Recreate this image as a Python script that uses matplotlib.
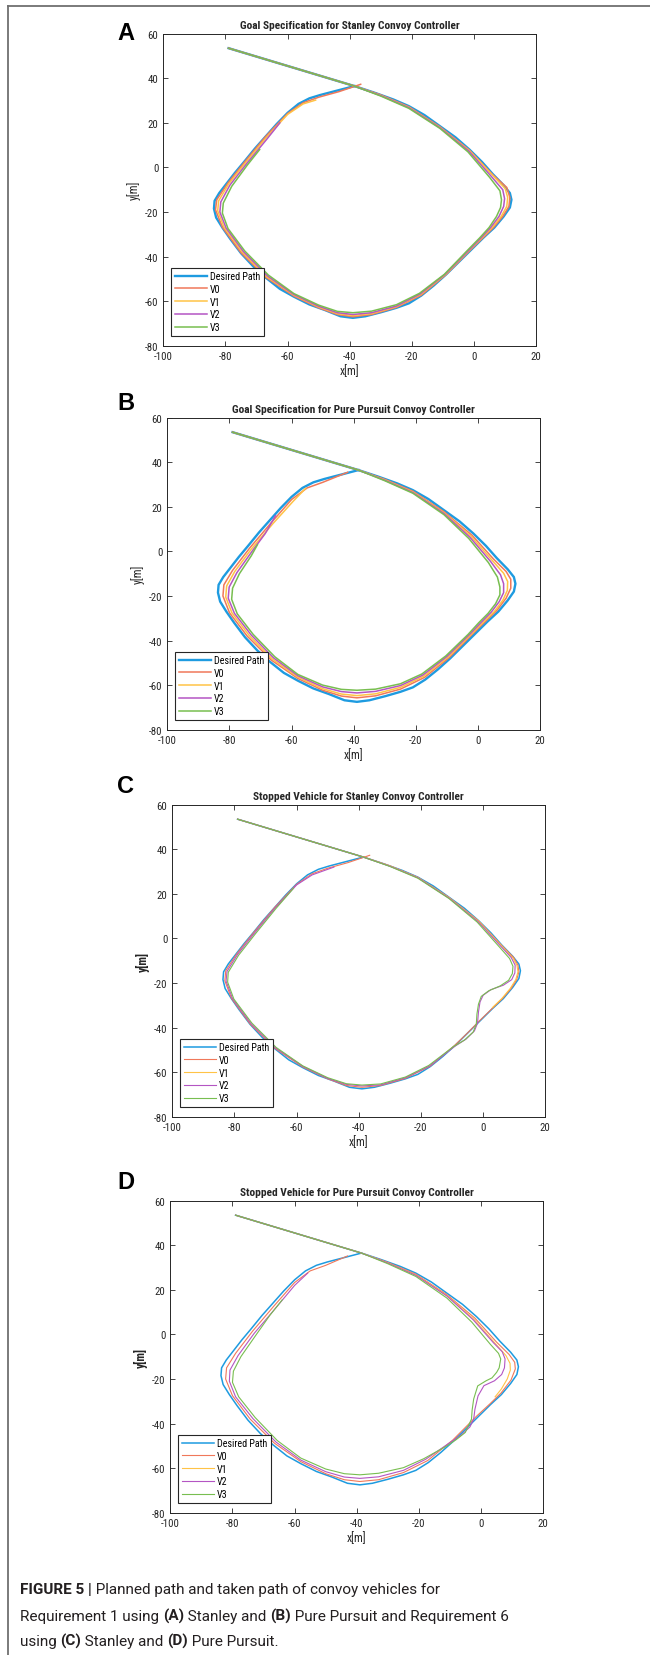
import matplotlib
matplotlib.use('Agg')
import matplotlib.pyplot as plt
from matplotlib import font_manager
from matplotlib.lines import Line2D

W, H = 650, 1656

# desired path, shared by all four runs
DESIRED = [(-79, 53.5), (-38.5, 36.5), (-32, 33.5), (-26, 30.5), (-21, 27.5), (-16, 23.5),
           (-11, 18.5), (-6, 13.5), (-1.5, 8), (2.5, 2.5), (6, -3), (9.5, -8), (11.5, -11.5),
           (12, -14.5), (11.5, -18), (9.5, -22), (6.5, -27), (3, -31.5), (-1, -37), (-5, -42.5),
           (-9, -48), (-13, -53), (-17, -57.5), (-21, -61), (-25, -63), (-30, -65), (-35, -66.8),
           (-39, -67.5), (-43, -66.8), (-48, -64), (-53, -61.5), (-58, -58), (-62.5, -54.5),
           (-67, -49.5), (-71, -44.5), (-75, -38.5), (-78.5, -32), (-81, -27), (-83, -22.5),
           (-83.7, -18.5), (-83.5, -15), (-82, -11.5), (-79.5, -7), (-77, -2.5), (-74, 2.5),
           (-70.5, 8.5), (-67, 14), (-63.5, 19.5), (-60, 24.5), (-56.5, 28.5), (-53, 31),
           (-49.5, 32.5), (-44, 34.5), (-38.5, 36.5)]

# (A) Stanley, requirement 1
A_V0 = [(-79, 53.5), (-38.5, 36.5), (-30, 32.5), (-21, 27.2), (-11, 18.2), (-1.5, 7.7), (6, -3.3),
        (10.5, -9), (11.5, -13.5), (11.2, -17.5), (9.2, -22), (6.2, -27), (2.8, -31.6), (-1.2, -37),
        (-9, -48), (-17, -57.3), (-25, -62.8), (-33, -66), (-39, -67), (-44, -66), (-50, -63),
        (-58, -57.7), (-67, -49.3), (-75, -38.3), (-81, -26.8), (-83.2, -19), (-82.8, -14.5),
        (-79.2, -7), (-73.8, 2.5), (-67, 14), (-60, 24.2), (-55, 29), (-50, 31.5), (-43.5, 34),
        (-36.5, 37.3)]
A_V1 = [(-79, 53.5), (-38.5, 36.5), (-30, 32.3), (-21, 27), (-11, 18), (-1.5, 7.5), (6, -3.6),
        (10, -9.5), (10.8, -13.5), (10.5, -17.5), (8.7, -22), (5.8, -27), (2.5, -31.6), (-1.4, -37),
        (-9.2, -48), (-17.2, -57), (-25, -62.5), (-33, -65.6), (-39, -66.5), (-44, -65.6), (-50, -62.6),
        (-58, -57.3), (-66.8, -49), (-74.6, -38), (-80.4, -27), (-82.5, -19.5), (-82.2, -15),
        (-79, -7.5), (-73.6, 2), (-66.8, 13.5), (-60, 23.8), (-55, 28.5), (-51, 30.2)]
A_V2 = [(-79, 53.5), (-38.5, 36.5), (-30, 32.2), (-21, 26.8), (-11, 17.8), (-1.7, 7.3), (5.5, -4),
        (9.2, -10), (9.8, -14), (9.5, -17.5), (8, -22), (5.3, -27), (2.2, -31.6), (-1.6, -37),
        (-9.4, -48), (-17.4, -56.8), (-25, -62.2), (-33, -65.2), (-39, -66), (-44, -65.2), (-50, -62.3),
        (-58, -57), (-66.5, -48.7), (-74.2, -37.8), (-79.8, -27.2), (-81.8, -20), (-81.5, -15.5),
        (-78.6, -8), (-73.3, 1.5), (-66.5, 13), (-62.5, 20)]
A_V3 = [(-79, 53.5), (-38.5, 36.5), (-30, 32), (-21, 26.5), (-11, 17.5), (-2, 7), (5, -4.5),
        (8.3, -10.5), (8.8, -14.5), (8.5, -18), (7.2, -22), (4.8, -27), (1.8, -31.6), (-2, -37),
        (-9.6, -48), (-17.6, -56.5), (-25, -61.6), (-33, -64.5), (-39, -65.2), (-44, -64.6), (-50, -61.8),
        (-58, -56.6), (-66.2, -48.3), (-73.8, -37.5), (-79.2, -27.4), (-81, -20.5), (-80.7, -16),
        (-78, -8.5), (-73, 1), (-69, 8)]

# (B) Pure Pursuit, requirement 1
B_V0 = [(-79, 53.5), (-38.5, 36.5), (-30, 32.3), (-21, 27), (-11, 17.8), (-2, 7.3), (5, -3.5),
        (9, -9), (10.5, -12.5), (10.5, -16.5), (9, -21), (6, -26.5), (2.5, -31.2), (-1.5, -36.6),
        (-9.2, -47.5), (-17.2, -56.5), (-25, -61.8), (-33, -64.8), (-39, -65.7), (-44, -64.9), (-50, -62.3),
        (-58, -57), (-66.5, -48.8), (-74.3, -38), (-80, -27.5), (-82.1, -20), (-81.8, -15),
        (-79, -8.5), (-73.5, 1.5), (-66.5, 13), (-60, 23.3), (-55, 28.5), (-50, 31), (-42, 35.5)]
B_V1 = [(-79, 53.5), (-38.5, 36.5), (-30, 32.1), (-21, 26.7), (-11, 17.4), (-2.3, 6.8), (4.5, -4),
        (8.2, -9.8), (9.5, -13.5), (9.4, -17.5), (8, -21.8), (5.2, -27), (1.8, -31.5), (-2, -36.8),
        (-9.6, -47.3), (-17.5, -56), (-25, -61), (-33, -63.9), (-39, -64.7), (-44, -64), (-50, -61.6),
        (-58, -56.4), (-66.2, -48.3), (-73.6, -37.8), (-79.2, -27.6), (-81.2, -20.5), (-80.9, -15.5),
        (-78.3, -9), (-73, 1), (-66, 12.5), (-59.5, 22.5), (-55.5, 28.3)]
B_V2 = [(-79, 53.5), (-38.5, 36.5), (-30, 31.9), (-21, 26.4), (-11, 17), (-2.6, 6.3), (4, -4.5),
        (7.2, -10.5), (8.2, -14.5), (8.2, -18.5), (6.8, -22.5), (4.2, -27.3), (1, -31.8), (-2.6, -37),
        (-10, -47.1), (-17.8, -55.5), (-25, -60.2), (-33, -62.8), (-39, -63.5), (-44, -62.9), (-50, -60.8),
        (-58, -55.8), (-65.8, -47.8), (-73, -37.5), (-78.4, -27.8), (-80.4, -21), (-80.1, -16),
        (-77.6, -9.5), (-72.5, 0.5), (-68.5, 8), (-65.2, 16)]
B_V3 = [(-79, 53.5), (-38.5, 36.5), (-30, 31.7), (-21, 26.1), (-11, 16.5), (-3, 5.8), (3.3, -5),
        (6.2, -11.5), (7, -16), (7, -19.5), (5.6, -23.5), (3.2, -27.8), (0.2, -32), (-3.2, -37.2),
        (-10.4, -46.9), (-18.1, -55), (-25, -59.4), (-33, -61.8), (-39, -62.3), (-44, -61.9), (-50, -60),
        (-58, -55.2), (-65.4, -47.3), (-72.4, -37.2), (-77.5, -28), (-79.3, -21.5), (-79, -16.5),
        (-76.8, -10), (-73, -2), (-71, 3)]

# (C) Stanley, requirement 6 (V1 stops, V2 and V3 go round it)
C_V0 = [(-79, 53.5), (-38.5, 36.5), (-30, 32.6), (-21, 27.4), (-11, 18.4), (-1.5, 7.9), (6, -3.2),
        (9.8, -8.5), (11.2, -12), (11.5, -15), (10.8, -18.5), (9, -22.5), (6.2, -27), (2.8, -31.6),
        (-1.2, -37), (-5, -42.4), (-9, -47.8), (-17, -57.3), (-25, -62.8), (-33, -66), (-39, -66.8),
        (-44, -66), (-50, -63), (-58, -57.7), (-67, -49.3), (-75, -38.3), (-81, -26.8), (-83.1, -19),
        (-82.8, -14.5), (-79.3, -7), (-73.9, 2.5), (-67, 14), (-60, 24.3), (-55, 29), (-50, 31.5),
        (-43.5, 34), (-36.5, 37.3)]
C_V1 = [(-79, 53.5), (-38.5, 36.5), (-30, 32.5), (-21, 27.3), (-11, 18.3), (-1.5, 7.8), (6, -3.4),
        (9.6, -8.8), (10.9, -12.2), (11.2, -15), (10.5, -18.5), (8.7, -22.5), (6, -27), (3, -31)]
C_V2 = [(-79, 53.5), (-38.5, 36.5), (-30, 32.4), (-21, 27.2), (-11, 18.1), (-1.7, 7.6), (5.6, -3.4),
        (9, -8.5), (10.3, -12), (10.2, -15.5), (9.2, -18.5), (6.5, -21), (2.5, -23), (0, -25.5),
        (-1, -28.5), (-1.5, -33), (-1.8, -38), (-2.8, -41.5), (-5.5, -45.2), (-9.2, -48.5),
        (-17.2, -57.2), (-25, -62.5), (-33, -65.7), (-39, -66.2), (-44, -65.5), (-50, -62.8),
        (-58, -57.4), (-66.8, -49.1), (-74.7, -38.2), (-80.6, -27), (-82.7, -19.2), (-82.4, -14.8),
        (-79, -7.2), (-73.6, 2.3), (-66.8, 13.8), (-60, 24), (-55, 28.5), (-48, 32)]
C_V3 = [(-79, 53.5), (-38.5, 36.5), (-30, 32.3), (-21, 27), (-11, 17.9), (-1.9, 7.3), (5.2, -3.8),
        (8.5, -9), (9.6, -12.5), (9.4, -15.8), (8.2, -18.8), (5.5, -21.3), (1.8, -23.5), (-0.6, -26),
        (-1.5, -29.5), (-2, -34), (-2.2, -38.5), (-3.2, -42), (-6, -45.6), (-9.6, -48.6),
        (-17.5, -57), (-25, -62.2), (-33, -65.3), (-39, -65.8), (-44, -65.2), (-50, -62.5),
        (-58, -57.2), (-66.6, -48.9), (-74.4, -38), (-80.2, -27.2), (-82.2, -19.6), (-82, -15.2),
        (-78.7, -7.6), (-73.3, 2), (-66.6, 13.5), (-61, 22.5)]

# (D) Pure Pursuit, requirement 6
D_V0 = [(-79, 53.5), (-38.5, 36.5), (-30, 32.3), (-21, 27), (-11, 17.8), (-2, 7.3), (5, -3.5),
        (9, -9), (10.8, -12.5), (11, -15.5), (9.6, -20.5), (6.4, -26.3), (2.8, -31.2), (-1.4, -36.6),
        (-9.2, -47.5), (-17.2, -56.6), (-25, -62), (-33, -65.2), (-39, -66), (-44, -65.2), (-50, -62.5),
        (-58, -57.1), (-66.5, -48.8), (-74.3, -38), (-80, -27.5), (-82.2, -20), (-81.9, -15),
        (-79, -8.5), (-73.5, 1.5), (-66.5, 13), (-60, 23.3), (-55, 28.5), (-50, 31), (-43, 35.2)]
D_V1 = [(-79, 53.5), (-38.5, 36.5), (-30, 32.1), (-21, 26.7), (-11, 17.4), (-2.3, 6.8), (4.5, -4),
        (8, -9.5), (9.3, -13), (9.4, -16), (8.4, -20), (6.5, -24.5), (4.5, -28)]
D_V2 = [(-79, 53.5), (-38.5, 36.5), (-30, 32), (-21, 26.5), (-11, 17.2), (-2.5, 6.5), (4, -3.8),
        (6.8, -7.8), (7.7, -11), (7.5, -15), (6.6, -18), (4.3, -20.8), (0.9, -23), (-1, -27.6),
        (-2, -33.6), (-2.4, -38), (-3.6, -41.5), (-6.5, -45.3), (-10, -48.5), (-17.8, -56),
        (-25, -61), (-33, -63.9), (-39, -64.6), (-44, -64), (-50, -61.6), (-58, -56.4), (-66, -48.3),
        (-73.4, -37.8), (-79, -28), (-81, -21), (-80.8, -16), (-78.2, -9.5), (-73, 0.5), (-66, 12),
        (-60, 22), (-55.8, 27.5)]
D_V3 = [(-79, 53.5), (-38.5, 36.5), (-30, 31.7), (-21, 26), (-11, 16.3), (-3, 5.5), (3, -4.5),
        (5.6, -8.5), (6.3, -11), (5.8, -15), (5, -17), (3.5, -19.5), (1.6, -20.8), (-1.1, -23.1),
        (-2.4, -29), (-2.9, -34), (-3.1, -38), (-5.1, -44), (-8, -47.2), (-11, -50), (-18.5, -55.8),
        (-25, -59.8), (-33, -62.3), (-39, -63), (-44, -62.5), (-50, -60.4), (-58, -55.5),
        (-65.6, -47.6), (-72.7, -37.3), (-78, -28), (-80, -21.5), (-79.7, -16.5), (-77.3, -10),
        (-72.3, 0), (-68, 8.5), (-64, 15.5)]

LABELS = ['Desired Path', 'V0', 'V1', 'V2', 'V3']
COLORS = ['#1E9BE0', '#F0785A', '#FFC346', '#B455C3', '#78BE50']
TITLES = ['Goal Specification for Stanley Convoy Controller',
          'Goal Specification for Pure Pursuit Convoy Controller',
          'Stopped Vehicle for Stanley Convoy Controller',
          'Stopped Vehicle for Pure Pursuit Convoy Controller']
LETTERS = ['A', 'B', 'C', 'D']
RUNS = [[A_V0, A_V1, A_V2, A_V3], [B_V0, B_V1, B_V2, B_V3],
        [C_V0, C_V1, C_V2, C_V3], [D_V0, D_V1, D_V2, D_V3]]

# layout in pixels: axes left, top, bottom; panel letter y
AX_BOX = [(163.3, 34.7, 346.7), (167.3, 418.7, 730.7), (172.3, 805.7, 1117.7), (170.3, 1201.7, 1513.7)]
AX_W = 373
LETTER_Y = [33, 403, 787, 1183]

# MATLAB text looks condensed; use a narrow face if one is installed
installed = {f.name for f in font_manager.fontManager.ttflist}
narrow = next((n for n in ['Liberation Sans Narrow', 'Arial Narrow', 'Roboto Condensed']
               if n in installed), None)
if narrow:
    FONT = [narrow, 'DejaVu Sans']
    T_SIZE, K_SIZE, L_SIZE = 8.2, 7.8, 7.2
else:
    FONT = ['Liberation Sans', 'DejaVu Sans']
    T_SIZE, K_SIZE, L_SIZE = 6.8, 6.6, 6.1
plt.rcParams['font.family'] = FONT
plt.rcParams['axes.unicode_minus'] = False
INK = '#262626'

fig = plt.figure(figsize=(W / 100, H / 100), dpi=100)


def fx(px):
    return px / W


def fy(py):
    return 1 - py / H


for i in range(4):
    left, top, bottom = AX_BOX[i]
    ax = fig.add_axes([fx(left), fy(bottom), AX_W / W, (bottom - top) / H])
    heavy = i < 2
    xs, ys = zip(*DESIRED)
    ax.plot(xs, ys, color=COLORS[0], lw=1.7 if heavy else 1.1, label=LABELS[0])
    for k, path in enumerate(RUNS[i]):
        xs, ys = zip(*path)
        ax.plot(xs, ys, color=COLORS[k + 1], lw=1.1 if heavy else 0.8, label=LABELS[k + 1])

    ax.set_xlim(-100, 20)
    ax.set_ylim(-80, 60)
    ax.set_xticks(range(-100, 21, 20))
    ax.set_yticks(range(-80, 61, 20))
    ax.tick_params(direction='in', top=True, right=True, length=3.5, width=0.6,
                   colors=INK, labelsize=K_SIZE, pad=3.5)
    for sp in ax.spines.values():
        sp.set_color(INK)
        sp.set_linewidth(0.7)
    ax.set_title(TITLES[i], fontsize=T_SIZE, fontweight='bold', color=INK, pad=4)
    ax.set_xlabel('x[m]', fontsize=K_SIZE + 0.6, color=INK, labelpad=2.5)
    ax.set_ylabel('y[m]', fontsize=K_SIZE + 0.6, color=INK, labelpad=3,
                  fontweight='normal' if heavy else 'bold')
    leg = ax.legend(loc='lower left', bbox_to_anchor=(8 / AX_W, 10 / (bottom - top)),
                    borderaxespad=0, fontsize=L_SIZE, frameon=True, fancybox=False,
                    edgecolor=INK, framealpha=1, borderpad=0.35, handlelength=3.2,
                    handletextpad=0.3, labelspacing=0.28)
    leg.get_frame().set_linewidth(0.8)
    fig.text(fx(126), fy(LETTER_Y[i]), LETTERS[i], fontsize=17, fontweight='bold',
             ha='center', va='center', family=['Liberation Sans', 'DejaVu Sans'])

# page frame
fig.add_artist(Line2D([fx(8), 1], [fy(7), fy(7)], color='#707070', lw=1.3))
fig.add_artist(Line2D([fx(8), fx(8)], [fy(7), 0], color='#707070', lw=1.3))

# caption with bold pieces
CAPTION = [[('FIGURE 5 |', True), (' Planned path and taken path of convoy vehicles for', False)],
           [('Requirement 1 using ', False), ('(A)', True), (' Stanley and ', False), ('(B)', True),
            (' Pure Pursuit and Requirement 6', False)],
           [('using ', False), ('(C)', True), (' Stanley and ', False), ('(D)', True),
            (' Pure Pursuit.', False)]]
CAP_BASE = [1594, 1621, 1646]
CAP_FONT = ['Roboto', 'Liberation Sans', 'DejaVu Sans']
CAP_X = 20
CAP_WIDTH = 490   # pixel width of the second caption line

renderer = fig.canvas.get_renderer()


def advance(s, bold, size):
    w = 'bold' if bold else 'normal'
    a = fig.text(0, 0, '|' + s + '|', fontsize=size, fontweight=w, family=CAP_FONT)
    b = fig.text(0, 0, '||', fontsize=size, fontweight=w, family=CAP_FONT)
    d = a.get_window_extent(renderer).width - b.get_window_extent(renderer).width
    a.remove()
    b.remove()
    return d


probe = sum(advance(s, b, 10) for s, b in CAPTION[1])
cap_size = 10 * CAP_WIDTH / probe

for segs, yb in zip(CAPTION, CAP_BASE):
    x = CAP_X
    for s, bold in segs:
        fig.text(fx(x), fy(yb), s, fontsize=cap_size, fontweight='bold' if bold else 'normal',
                 family=CAP_FONT, color='#231F20', ha='left', va='baseline')
        x += advance(s, bold, cap_size)

fig.savefig('out.png', dpi=100)
